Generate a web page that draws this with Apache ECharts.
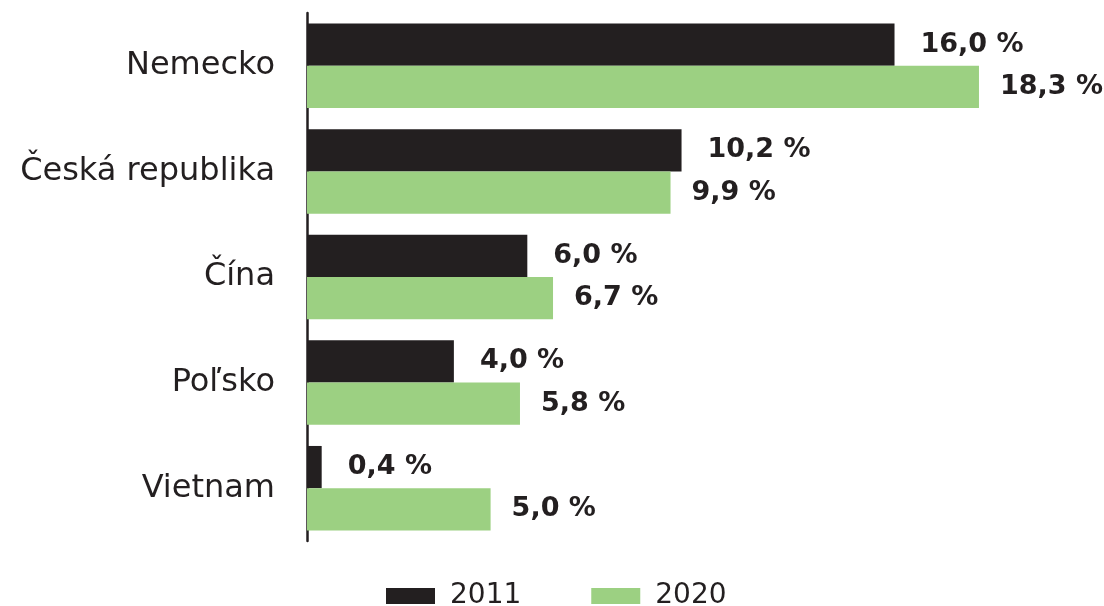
<!DOCTYPE html>
<html>
<head>
<meta charset="utf-8">
<script src="https://cdn.jsdelivr.net/npm/echarts@6/dist/echarts.min.js"></script>
<style>
html,body{margin:0;padding:0;background:#fff;}
#chart{width:1104px;height:606px;}
</style>
</head>
<body>
<div id="chart"></div>
<script>
const categories = ['Nemecko', 'Česká republika', 'Čína', 'Poľsko', 'Vietnam'];
const seriesNames = ['2011', '2020'];
const values2011 = [16.0, 10.2, 6.0, 4.0, 0.4];
const values2020 = [18.3, 9.9, 6.7, 5.8, 5.0];

const dark = '#231f20';
const green = '#9cd082';
const fmt = p => p.value.toFixed(1).replace('.', ',') + ' %';

const chart = echarts.init(document.getElementById('chart'));
chart.setOption({
  animation: false,
  backgroundColor: '#fff',
  grid: { left: 307, top: 13, width: 734.4, height: 528, containLabel: false },
  xAxis: { type: 'value', min: 0, max: 20, show: false },
  yAxis: {
    type: 'category', data: categories, inverse: true,
    axisLine: { show: true, lineStyle: { color: dark, width: 2.5 } },
    axisTick: { show: false },
    axisLabel: { fontFamily: 'DejaVu Sans', fontSize: 32, color: dark, margin: 32 }
  },
  legend: {
    left: 386, top: 582, padding: 0, itemWidth: 49, itemHeight: 16, itemGap: 70,
    icon: 'rect',
    textStyle: { fontFamily: 'DejaVu Sans', fontSize: 28, color: dark, padding: [0, 0, 0, 10] },
    data: seriesNames
  },
  series: [
    {
      name: seriesNames[0], type: 'bar', data: values2011,
      barGap: '0%', barCategoryGap: '20%',
      itemStyle: { color: dark },
      label: { show: true, position: 'right', distance: 26, formatter: fmt,
        fontFamily: 'DejaVu Sans', fontWeight: 'bold', fontSize: 27, color: dark }
    },
    {
      name: seriesNames[1], type: 'bar', data: values2020,
      barGap: '0%', barCategoryGap: '20%',
      itemStyle: { color: green },
      label: { show: true, position: 'right', distance: 21, formatter: fmt,
        fontFamily: 'DejaVu Sans', fontWeight: 'bold', fontSize: 27, color: dark }
    }
  ]
});
</script>
</body>
</html>
